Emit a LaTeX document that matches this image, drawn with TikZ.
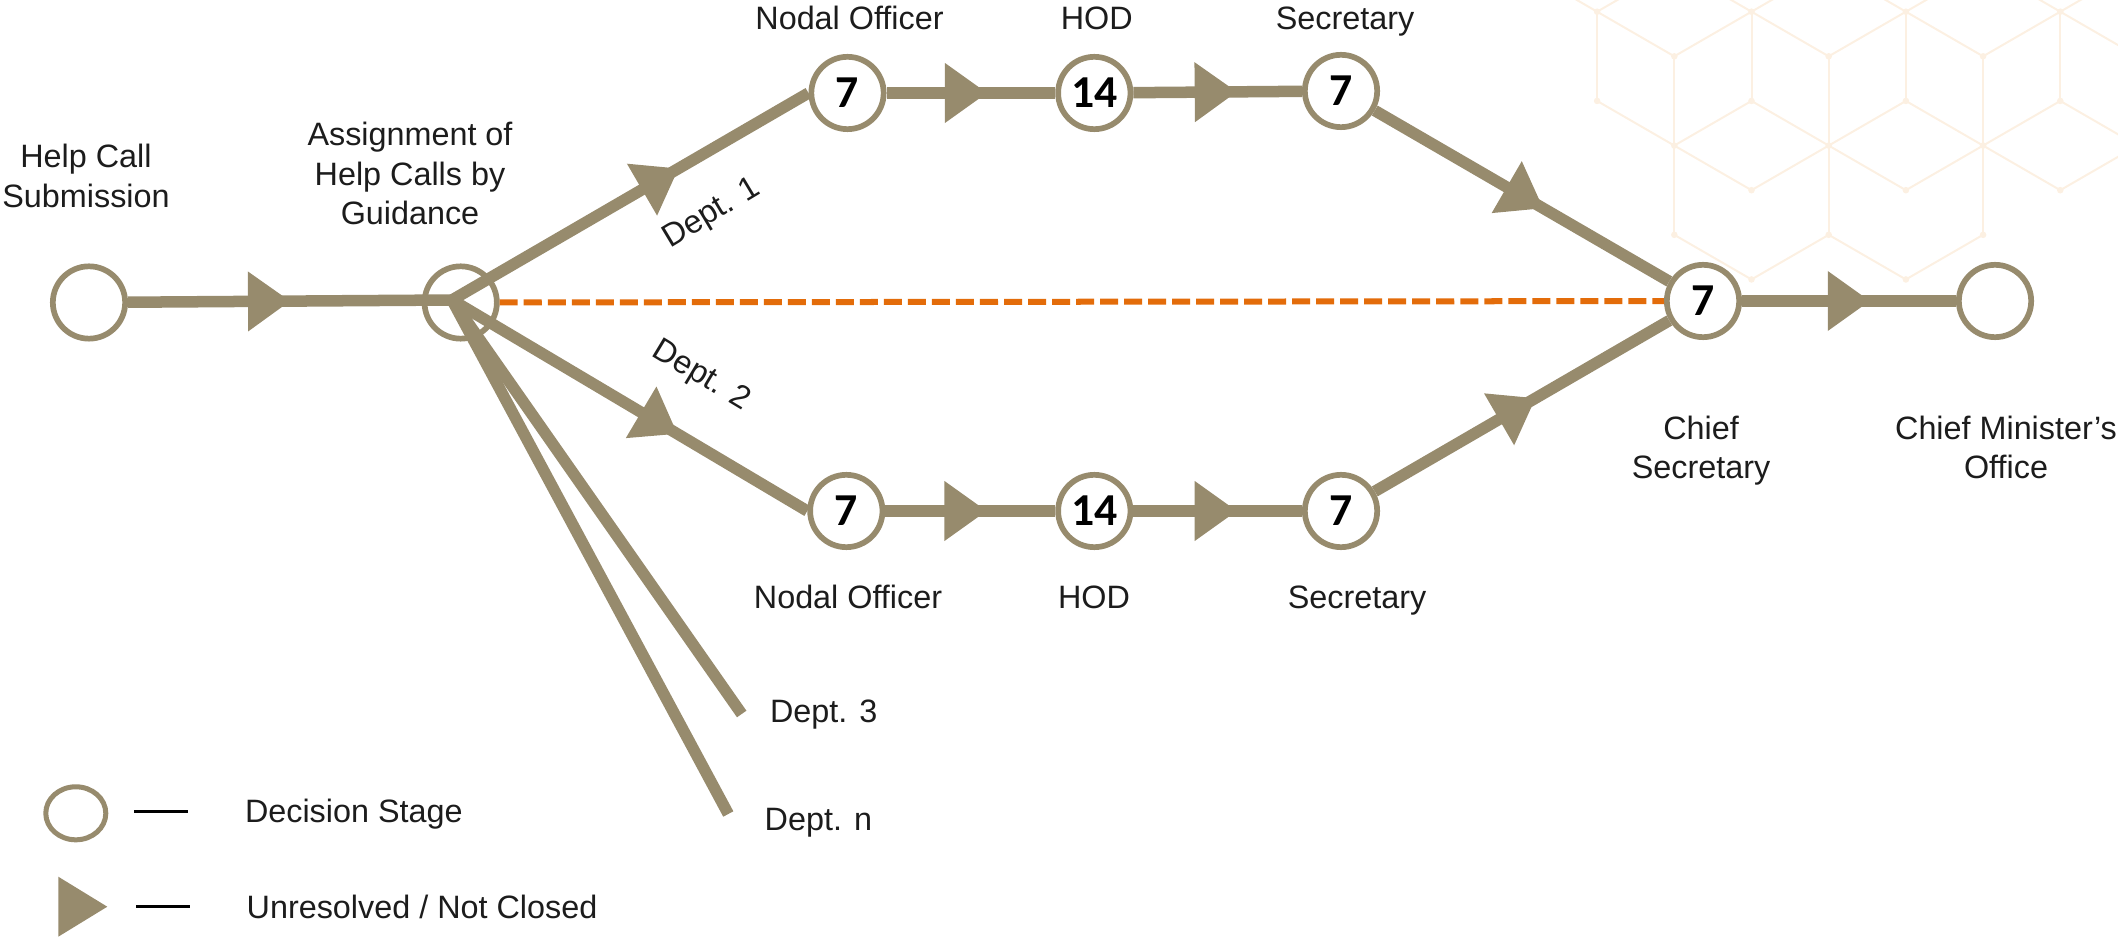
\documentclass[tikz,border=0pt]{standalone}
\usepackage{fontspec}
\setmainfont{Liberation Sans}
\newfontfamily\stagefont{Carlito}
\usetikzlibrary{arrows.meta,decorations.markings,shapes.geometric}
\definecolor{khaki}{RGB}{151,139,109}
\definecolor{rust}{RGB}{227,108,10}
\definecolor{hexline}{RGB}{252,240,226}
\definecolor{ink}{RGB}{28,28,28}
\tikzset{
  stage/.style={circle, draw=khaki, line width=0.057cm, minimum size=0.723cm, inner sep=0pt, fill=white, font=\stagefont\bfseries\fontsize{13}{13}\selectfont},
  link/.style={color=khaki, line width=0.115cm},
  flow/.style={link, postaction={decorate}, decoration={markings, mark=at position #1 with {\arrow{Triangle[length=0.42cm,width=0.6cm,line width=0pt]}}}},
  shortcut/.style={color=rust, line width=0.06cm, dash pattern=on 0.18cm off 0.06cm},
  keyline/.style={black, line width=0.027cm},
  lbl/.style={font=\fontsize{9.2}{11.24}\selectfont, text=ink, inner sep=0pt, align=center}
}
\begin{document}
\begin{tikzpicture}[x=0.01cm, y=-0.01cm]
  \useasboundingbox (0,0) rectangle (2118,937);
  \begin{scope}
    \clip (0,0) rectangle (2118,937);
    \begin{scope}[shift={(1597.1,11.7)}, x=0.7715cm, y=-0.446cm, color=hexline, line width=0.02cm]
      \foreach \a/\b/\c/\d in {0/0/0/2, 2/0/2/2, 4/0/4/2, 6/0/6/2, 1/1/1/5, 3/1/3/5, 5/1/5/5,
          -1/-1/0/0, 1/-1/0/0, 1/-1/2/0, 3/-1/2/0, 3/-1/4/0, 5/-1/4/0, 5/-1/6/0, 7/-1/6/0,
          0/0/1/1, 2/0/1/1, 2/0/3/1, 4/0/3/1, 4/0/5/1, 6/0/5/1, 6/0/7/1,
          0/2/1/3, 2/2/1/3, 2/2/3/3, 4/2/3/3, 4/2/5/3, 6/2/5/3, 6/2/7/3,
          1/3/2/4, 3/3/2/4, 3/3/4/4, 5/3/4/4, 5/3/6/4, 7/3/6/4,
          1/5/2/6, 3/5/2/6, 3/5/4/6, 5/5/4/6}
        \draw (\a,\b) -- (\c,\d);
      \foreach \a/\b in {0/0, 2/0, 4/0, 6/0, 1/1, 3/1, 5/1, 0/2, 2/2, 4/2, 6/2, 1/3, 3/3, 5/3,
          2/4, 4/4, 6/4, 1/5, 3/5, 5/5, 2/6, 4/6}
        \fill (\a,\b) circle[radius=0.033cm];
    \end{scope}
  \end{scope}

  \node[stage] (HC) at (89,302.5) {};
  \node[stage, fill=none] (AS) at (460.7,302.5) {};
  \coordinate (hub) at (452,300);
  \node[stage] (N1) at (847.5,93) {7};
  \node[stage] (H1) at (1094.3,93) {14};
  \node[stage] (S1) at (1341,91) {7};
  \node[stage] (N2) at (846.3,511) {7};
  \node[stage] (H2) at (1094.3,511) {14};
  \node[stage] (S2) at (1341,511) {7};
  \node[stage] (CS) at (1703,301) {7};
  \node[stage] (CMO) at (1995,301) {};
  \coordinate (d3) at (741.7,714);
  \coordinate (dn) at (728.3,814);

  \draw[shortcut] (AS) -- (CS);
  \draw[flow=0.5] (HC) -- (hub);
  \draw[flow=0.635] (hub) -- (N1.west);
  \draw[flow=0.595] (N1) -- (H1);
  \draw[flow=0.613] (H1) -- (S1);
  \draw[flow=0.572] (S1) -- (CS);
  \draw[flow=0.634] (hub) -- (N2.west);
  \draw[flow=0.595] (N2) -- (H2);
  \draw[flow=0.613] (H2) -- (S2);
  \draw[flow=0.546] (S2) -- (CS);
  \draw[flow=0.597] (CS) -- (CMO);
  \draw[link] (hub) -- (d3);
  \draw[link] (hub) -- (dn);

  \node[lbl, anchor=north] (hclbl) at (86,143.5) {Help Call\\Submission};
  \node[lbl, anchor=north] (aslbl) at (410,121.5) {Assignment of\\Help Calls by\\Guidance};
  \node[lbl, anchor=base] (n1lbl) at (849.5,30) {Nodal Officer};
  \node[lbl, anchor=base] (h1lbl) at (1096.7,30) {HOD};
  \node[lbl, anchor=base] (s1lbl) at (1345,30) {Secretary};
  \node[lbl, anchor=base] (n2lbl) at (848,608.3) {Nodal Officer};
  \node[lbl, anchor=base] (h2lbl) at (1094,608.3) {HOD};
  \node[lbl, anchor=base] (s2lbl) at (1357,608.3) {Secretary};
  \node[lbl, anchor=north] (cslbl) at (1701,415) {Chief\\Secretary};
  \node[lbl, anchor=north] (cmolbl) at (2006,415) {Chief Minister’s\\Office};
  \node[lbl, rotate=31] (dept1) at (712,214) {Dept. 1};
  \node[lbl, rotate=-31] (dept2) at (700.7,376) {Dept. 2};
  \node[lbl, anchor=base west] (dept3) at (769.3,722.8) {Dept. 3};
  \node[lbl, anchor=base west] (deptn) at (764,830.5) {Dept. n};

  \node[ellipse, draw=khaki, line width=0.05cm, minimum width=0.6cm, minimum height=0.53cm, inner sep=0pt] (keystage) at (75.8,813.3) {};
  \draw[keyline] (134,811.7) -- (188.3,811.7);
  \node[lbl, anchor=base west] (keystagetxt) at (244.3,822.3) {Decision Stage};
  \fill[khaki] (58.3,876.7) -- (107.3,906.7) -- (58.3,936.7) -- cycle;
  \draw[keyline] (136,906.7) -- (190,906.7);
  \node[lbl, anchor=base west] (keyflowtxt) at (246,918.3) {Unresolved / Not Closed};
\end{tikzpicture}
\end{document}
